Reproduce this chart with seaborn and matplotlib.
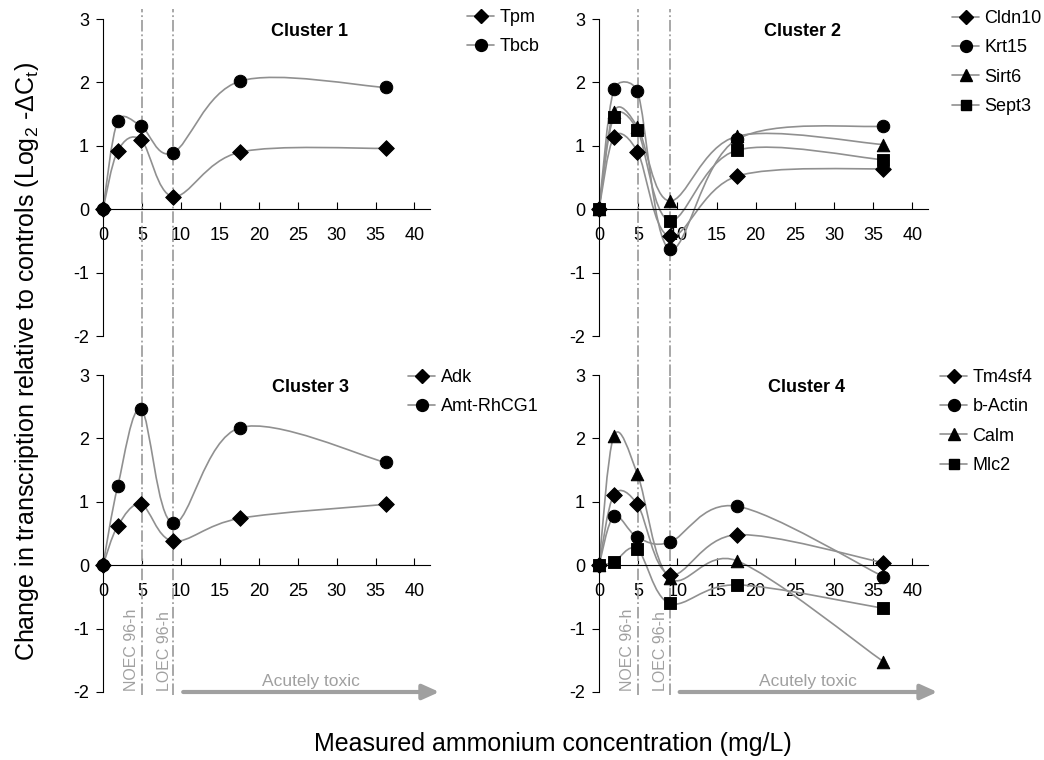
import numpy as np
import pandas as pd
import matplotlib
matplotlib.use("Agg")
import matplotlib.pyplot as plt
from matplotlib.path import Path
from matplotlib.patches import PathPatch
from matplotlib.lines import Line2D
import seaborn as sns

# measured ammonium concentrations (mg/L)
conc = [0, 1.9, 4.9, 9.0, 17.6, 36.3]
noec, loec = 5.0, 9.0

# log2 -dCt per gene
tpm = [0, 0.92, 1.09, 0.20, 0.90, 0.96]
tbcb = [0, 1.39, 1.31, 0.89, 2.02, 1.92]

cldn10 = [0, 1.14, 0.91, -0.43, 0.52, 0.64]
krt15 = [0, 1.89, 1.86, -0.63, 1.10, 1.31]
sirt6 = [0, 1.54, 1.30, 0.13, 1.15, 1.02]
sept3 = [0, 1.46, 1.25, -0.18, 0.93, 0.78]

adk = [0, 0.62, 0.96, 0.38, 0.74, 0.96]
amt_rhcg1 = [0, 1.25, 2.46, 0.66, 2.17, 1.62]

tm4sf4 = [0, 1.11, 0.96, -0.15, 0.48, 0.04]
b_actin = [0, 0.77, 0.44, 0.36, 0.93, -0.18]
calm = [0, 2.04, 1.44, -0.20, 0.07, -1.52]
mlc2 = [0, 0.05, 0.25, -0.60, -0.31, -0.68]

clusters = [
    ("Cluster 1", {"Tpm": tpm, "Tbcb": tbcb}),
    ("Cluster 2", {"Cldn10": cldn10, "Krt15": krt15, "Sirt6": sirt6, "Sept3": sept3}),
    ("Cluster 3", {"Adk": adk, "Amt-RhCG1": amt_rhcg1}),
    ("Cluster 4", {"Tm4sf4": tm4sf4, "b-Actin": b_actin, "Calm": calm, "Mlc2": mlc2}),
]
marker_cycle = ["D", "o", "^", "s"]
marker_size = {"D": 8, "o": 9, "^": 9, "s": 8}

sns.set_style("ticks")
plt.rcParams["font.family"] = ["Liberation Sans", "DejaVu Sans"]
plt.rcParams["mathtext.fontset"] = "custom"
plt.rcParams["mathtext.rm"] = "Liberation Sans"
plt.rcParams["mathtext.it"] = "Liberation Sans:italic"
plt.rcParams["axes.unicode_minus"] = False
plt.rcParams["axes.edgecolor"] = "black"
plt.rcParams["xtick.color"] = "black"
plt.rcParams["ytick.color"] = "black"
plt.rcParams["text.color"] = "black"

LINE_GREY = "#909090"
NOTE_GREY = "#a0a0a0"
W, H = 1044, 760


def smooth_path(ax, x, y):
    # excel-style smoothed line: cubic bezier, arms clamped in screen space
    pts = ax.transData.transform(np.column_stack([x, y]))
    p = np.vstack([pts[0], pts, pts[-1]])
    verts = [pts[0]]
    codes = [Path.MOVETO]
    for i in range(1, len(pts)):
        p0, p1, p2, p3 = p[i - 1], p[i], p[i + 1], p[i + 2]
        d12 = np.hypot(*(p2 - p1))
        d02 = np.hypot(*(p2 - p0))
        d13 = np.hypot(*(p3 - p1))
        f1 = 1 / 6 if d02 / 6 < d12 / 2 else d12 / (2 * d02)
        f2 = 1 / 6 if d13 / 6 < d12 / 2 else d12 / (2 * d13)
        verts += [p1 + (p2 - p0) * f1, p2 - (p3 - p1) * f2, p2]
        codes += [Path.CURVE4] * 3
    verts = ax.transData.inverted().transform(np.array(verts))
    return Path(verts, codes)


fig = plt.figure(figsize=(W / 100, H / 100), dpi=100)

# axes rectangles in pixels: left, top of y=3, width, height
rects = [(103, 19, 327, 317), (599, 19, 329, 317),
         (103, 375, 327, 317), (599, 375, 329, 317)]
legend_pos = [(467, 9), (952, 10), (408, 369), (940, 369)]
title_x = [0.633, 0.618, 0.635, 0.631]

for k, ((title, genes), (l, t, w, h)) in enumerate(zip(clusters, rects)):
    ax = fig.add_axes([l / W, 1 - (t + h) / H, w / W, h / H])
    ax.set_xlim(0, 42)
    ax.set_ylim(-2, 3)
    ax.set_facecolor("none")
    for s in ["top", "right"]:
        ax.spines[s].set_visible(False)
    ax.spines["bottom"].set_position(("data", 0))
    ax.spines["left"].set_bounds(-2, 3)
    ax.spines["bottom"].set_bounds(0, 42)
    ax.set_xticks(range(0, 45, 5))
    ax.set_yticks(range(-2, 4))
    ax.tick_params(axis="x", direction="in", length=5, pad=13, labelsize=13)
    ax.tick_params(axis="y", direction="out", length=5, pad=5, labelsize=13)

    top = k < 2
    for xv in (noec, loec):
        if top:
            ax.axvline(xv, ymin=-0.125, ymax=1.03, color=NOTE_GREY, lw=1.3,
                       ls="-.", clip_on=False, zorder=1)
        else:
            ax.axvline(xv, ymin=-0.01, ymax=1.0, color=NOTE_GREY, lw=1.3,
                       ls="-.", clip_on=False, zorder=1)

    handles = []
    for j, (gene, vals) in enumerate(genes.items()):
        m = marker_cycle[j]
        ax.add_patch(PathPatch(smooth_path(ax, conc, vals), fill=False,
                               edgecolor=LINE_GREY, lw=1.2, zorder=2))
        df = pd.DataFrame({"conc": conc, "val": vals})
        sns.scatterplot(data=df, x="conc", y="val", marker=m, color="black",
                        edgecolor="black", s=marker_size[m] ** 2, ax=ax,
                        zorder=3, clip_on=False, legend=False)
        handles.append(Line2D([], [], color=LINE_GREY, lw=1.2, marker=m,
                              markerfacecolor="black", markeredgecolor="black",
                              markersize=marker_size[m] * 0.95, label=gene))
    ax.set_xlabel("")
    ax.set_ylabel("")

    ax.text(title_x[k], 0.962, title, transform=ax.transAxes, ha="center",
            va="center", fontsize=13, fontweight="bold")

    lx, ly = legend_pos[k]
    fig.legend(handles=handles, loc="upper left",
               bbox_to_anchor=(lx / W, 1 - ly / H), bbox_transform=fig.transFigure,
               frameon=False, fontsize=13, borderpad=0, handlelength=1.5,
               handletextpad=0.3, labelspacing=0.68, borderaxespad=0)

    if not top:
        ax.text(3.6, -1.98, "NOEC 96-h", rotation=90, ha="center", va="bottom",
                color=NOTE_GREY, fontsize=11.5)
        ax.text(7.9, -1.98, "LOEC 96-h", rotation=90, ha="center", va="bottom",
                color=NOTE_GREY, fontsize=11.5)
        ax.text(26.7, -1.84, "Acutely toxic", ha="center", va="center",
                color=NOTE_GREY, fontsize=12.5)
        ax.annotate("", xy=(43.2, -2.0), xytext=(10.3, -2.0),
                    xycoords="data", annotation_clip=False,
                    arrowprops=dict(arrowstyle="-|>,head_length=1.0,head_width=0.45",
                                    color=NOTE_GREY, lw=3, shrinkA=0, shrinkB=0))

fig.text(0.026, 0.525,
         "Change in transcription relative to controls (Log$_2$ -ΔC$_\\mathrm{t}$)",
         rotation=90, ha="center", va="center", fontsize=18)
fig.text(0.53, 0.005, "Measured ammonium concentration (mg/L)",
         ha="center", va="bottom", fontsize=18)

fig.savefig("out.png", dpi=100)
